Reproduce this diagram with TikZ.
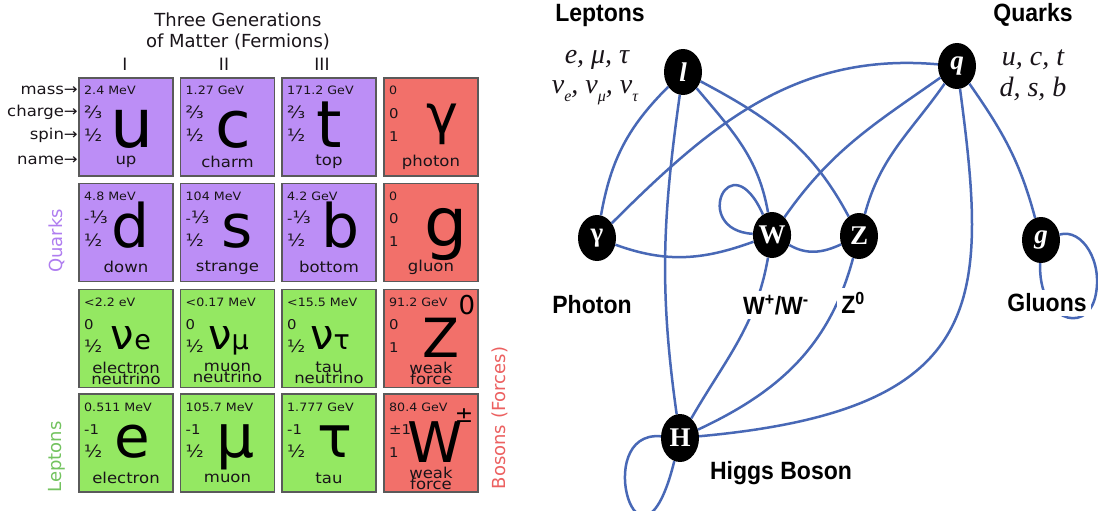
\documentclass[tikz,border=0pt]{standalone}
\usepackage{fontspec}
\setmainfont{DejaVu Sans}
\newfontfamily\tf[FakeStretch=1.1]{DejaVu Sans}
\newfontfamily\lab[FakeStretch=0.92]{Liberation Sans}
\newfontfamily\ser{Liberation Serif}
\usetikzlibrary{shapes.geometric}
\definecolor{qpurple}{RGB}{188,142,246}
\definecolor{lgreen}{RGB}{148,232,98}
\definecolor{bred}{RGB}{242,112,106}
\definecolor{edgeblue}{RGB}{72,104,182}
\definecolor{cellborder}{RGB}{90,90,90}
\definecolor{ink}{RGB}{25,20,25}
\definecolor{qtext}{RGB}{175,125,240}
\definecolor{ltext}{RGB}{115,195,95}
\definecolor{btext}{RGB}{236,96,96}
\newcommand\fs[1]{\fontsize{#1}{#1}\selectfont}
\newcommand\fr[1]{{\fs{17}#1}}
\newcommand\lsub[1]{\raisebox{-0.3em}{\fs{16}#1}}
\newcommand\namefont{\tf\fontsize{15}{11}\selectfont}
\tikzset{
  cellbox/.style={draw=cellborder, line width=1.5pt, minimum width=94pt, minimum height=98pt, inner sep=0pt, outer sep=0pt},
  small/.style={anchor=base west, inner sep=0pt, font={\tf\fs{11.5}}, text=ink},
  qn/.style={anchor=base west, inner sep=0pt, font={\tf\fs{13.5}}, text=ink},
  pname/.style={anchor=center, inner sep=0pt, font=\namefont, text=ink, align=center},
  big/.style={anchor=base, inner sep=0pt, text=black},
  side/.style={anchor=base east, inner sep=0pt, font={\tf\fs{15}}, text=ink},
  gnode/.style={ellipse, fill=black, minimum width=38pt, minimum height=46pt, inner sep=0pt, text=white, font={\ser\bfseries\fs{27}}},
  conn/.style={draw=edgeblue, line width=2.5pt},
  blab/.style={font={\lab\bfseries\fs{25}}, inner sep=0pt, text=black},
  wlab/.style={blab, fill=white, inner sep=4pt},
  ital/.style={font={\ser\itshape\fs{28}}, inner sep=0pt, anchor=base, text=ink}
}
\newcommand\pcell[8]{%
  \node[cellbox, fill=#4, anchor=north west] (#1) at (#2,-#3) {};
  \node[small] (#1-m) at ([shift={(5,-17)}]#1.north west) {#5};
  \node[qn] (#1-c) at ([shift={(5,-40)}]#1.north west) {#6};
  \node[qn] (#1-s) at ([shift={(5,-63)}]#1.north west) {#7};
  \node[pname] (#1-n) at ([shift={(47,-84)}]#1.north west) {#8};
}
\begin{document}
\lineskiplimit=-20pt\relax
\begin{tikzpicture}[x=1pt,y=1pt]
\fill[white] (0,0) rectangle (1098,-511);
\useasboundingbox (0,0) rectangle (1098,-511);

% ---------- table ----------
\node[anchor=base, inner sep=0pt, font={\fs{18}}, text=ink] (t1) at (238,-26.5) {Three Generations};
\node[anchor=base, inner sep=0pt, font={\fs{18}}, text=ink] (t2) at (238,-47.5) {of Matter (Fermions)};
\node[font={\fs{17}}, text=ink, inner sep=0pt] (gI) at (125,-64) {I};
\node[font={\fs{17}}, text=ink, inner sep=0pt] (gII) at (224,-64) {II};
\node[font={\fs{17}}, text=ink, inner sep=0pt] (gIII) at (322,-64) {III};

\node[side] (smass) at (78,-94) {mass→};
\node[side] (scharge) at (78,-116) {charge→};
\node[side] (sspin) at (78,-139) {spin→};
\node[side] (sname) at (78,-164) {name→};

% row 1
\pcell{u}{79}{78}{qpurple}{2.4 MeV}{\fr{⅔}}{\fr{½}}{up}
\pcell{c}{180.5}{78}{qpurple}{1.27 GeV}{\fr{⅔}}{\fr{½}}{charm}
\pcell{t}{282}{78}{qpurple}{171.2 GeV}{\fr{⅔}}{\fr{½}}{top}
\pcell{ph}{384}{78}{bred}{0}{0}{1}{photon}
% row 2
\pcell{d}{79}{183.3}{qpurple}{4.8 MeV}{-\fr{⅓}}{\fr{½}}{down}
\pcell{s}{180.5}{183.3}{qpurple}{104 MeV}{-\fr{⅓}}{\fr{½}}{strange}
\pcell{b}{282}{183.3}{qpurple}{4.2 GeV}{-\fr{⅓}}{\fr{½}}{bottom}
\pcell{gl}{384}{183.3}{bred}{0}{0}{1}{gluon}
% row 3
\pcell{ve}{79}{289.3}{lgreen}{<2.2 eV}{0}{\fr{½}}{electron\\neutrino}
\pcell{vm}{180.5}{289.3}{lgreen}{<0.17 MeV}{0}{\fr{½}}{muon\\neutrino}
\pcell{vt}{282}{289.3}{lgreen}{<15.5 MeV}{0}{\fr{½}}{tau\\neutrino}
\pcell{zb}{384}{289.3}{bred}{91.2 GeV}{0}{1}{weak\\force}
% row 4
\pcell{e}{79}{394}{lgreen}{0.511 MeV}{-1}{\fr{½}}{electron}
\pcell{mu}{180.5}{394}{lgreen}{105.7 MeV}{-1}{\fr{½}}{muon}
\pcell{ta}{282}{394}{lgreen}{1.777 GeV}{-1}{\fr{½}}{tau}
\pcell{wb}{384}{394}{bred}{80.4 GeV}{±1}{1}{weak\\force}

% big symbols
\node[big, font={\fs{68}}] (u-b) at ([shift={(53,-69)}]u.north west) {u};
\node[big, font={\fs{65}}] (c-b) at ([shift={(53,-69)}]c.north west) {c};
\node[big, font={\fs{65}}] (t-b) at ([shift={(47,-69)}]t.north west) {t};
\node[big, font={\fs{54}}] (ph-b) at ([shift={(58,-55)}]ph.north west) {γ};
\node[big, font={\fs{60}}] (d-b) at ([shift={(52,-64)}]d.north west) {d};
\node[big, font={\fs{60}}] (s-b) at ([shift={(57,-64)}]s.north west) {s};
\node[big, font={\fs{60}}] (b-b) at ([shift={(59,-64)}]b.north west) {b};
\node[big, font={\fs{68}}] (gl-b) at ([shift={(62,-63)}]gl.north west) {g};
\node[big, font={\fs{42}}] (ve-b) at ([shift={(52,-60)}]ve.north west) {ν{\fs{27}e}};
\node[big, font={\fs{42}}] (vm-b) at ([shift={(48,-60)}]vm.north west) {ν{\fs{27}μ}};
\node[big, font={\fs{42}}] (vt-b) at ([shift={(48,-60)}]vt.north west) {ν{\fs{27}τ}};
\node[big, font={\fs{54}}] (zb-b) at ([shift={(57,-68)}]zb.north west) {Z};
\node[big, font={\fs{58}}] (e-b) at ([shift={(53,-63)}]e.north west) {e};
\node[big, font={\fs{60}}] (mu-b) at ([shift={(55,-63)}]mu.north west) {μ};
\node[big, font={\fs{58}}] (ta-b) at ([shift={(53,-63)}]ta.north west) {τ};
\node[big, font={\fs{56}}] (wb-b) at ([shift={(51,-68)}]wb.north west) {W};
\node[inner sep=0pt, font={\fs{26}}] (zsup) at (467,-305) {0};
\node[inner sep=0pt, font={\fs{22}}] (wsup) at (464,-416) {±};

\node[rotate=90, inner sep=0pt, font={\fs{18}}, text=qtext] (qlab) at (57,-241) {Quarks};
\node[rotate=90, inner sep=0pt, font={\fs{18}}, text=ltext] (llab) at (57,-457) {Leptons};
\node[rotate=90, inner sep=0pt, font={\fs{18}}, text=btext] (blab) at (500,-418) {Bosons (Forces)};

% ---------- interaction graph ----------
\node[gnode] (l) at (683,-72) {\itshape l};
\node[gnode] (q) at (957,-66) {\itshape q};
\node[gnode] (ga) at (597,-238) {γ};
\node[gnode] (W) at (772,-235) {W};
\node[gnode] (Z) at (859,-236) {Z};
\node[gnode] (g) at (1041,-240) {\itshape g};
\node[gnode, minimum height=48pt] (H) at (680,-438) {H};

\draw[conn] (l) to[out=225,in=80] (ga);
\draw[conn] (l) to[out=262,in=98] (H);
\draw[conn] (l) to[out=-50,in=100] (W);
\draw[conn] (l) to[out=-28,in=118] (Z);
\draw[conn] (q) to[out=175,in=45] (ga);
\draw[conn] (q) to[out=215,in=55] (W);
\draw[conn] (q) to[out=235,in=75] (Z);
\draw[conn] (q) .. controls (988,-300) and (990,-410) .. (H);
\draw[conn] (q) to[out=-55,in=105] (g);
\draw[conn] (ga) to[out=-20,in=200] (W);
\draw[conn] (W) to[out=-30,in=205] (Z);
\draw[conn] (W) .. controls (690,-230) and (730,-140) .. (W);
\draw[conn] (W) to[out=-100,in=60] (H);
\draw[conn] (Z) to[out=-105,in=25] (H);
\draw[conn] (H) .. controls (590,-430) and (640,-600) .. (H);
\draw[conn] (g) .. controls (1038,-320) and (1085,-335) .. (1095,-298) .. controls (1104,-262) and (1082,-228) .. (g);

\node[blab] (lepl) at (600,-15) {Leptons};
\node[blab] (quarkl) at (1033,-15) {Quarks};
\node[ital] (lep1) at (597,-64) {e, μ, τ};
\node[ital] (lep2) at (595,-93) {ν\lsub{e}, ν\lsub{μ}, ν\lsub{τ}};
\node[ital] (qk1) at (1033,-66) {u, c, t};
\node[ital] (qk2) at (1033,-96) {d, s, b};
\node[wlab] (phl) at (592,-305) {Photon};
\node[wlab] (wl) at (776,-305) {W\textsuperscript{+}/W\textsuperscript{-}};
\node[wlab] (zl) at (853,-303) {Z\textsuperscript{0}};
\node[wlab] (gll) at (1047,-303) {Gluons};
\node[blab] (hl) at (781,-473) {Higgs Boson};
\end{tikzpicture}
\end{document}
